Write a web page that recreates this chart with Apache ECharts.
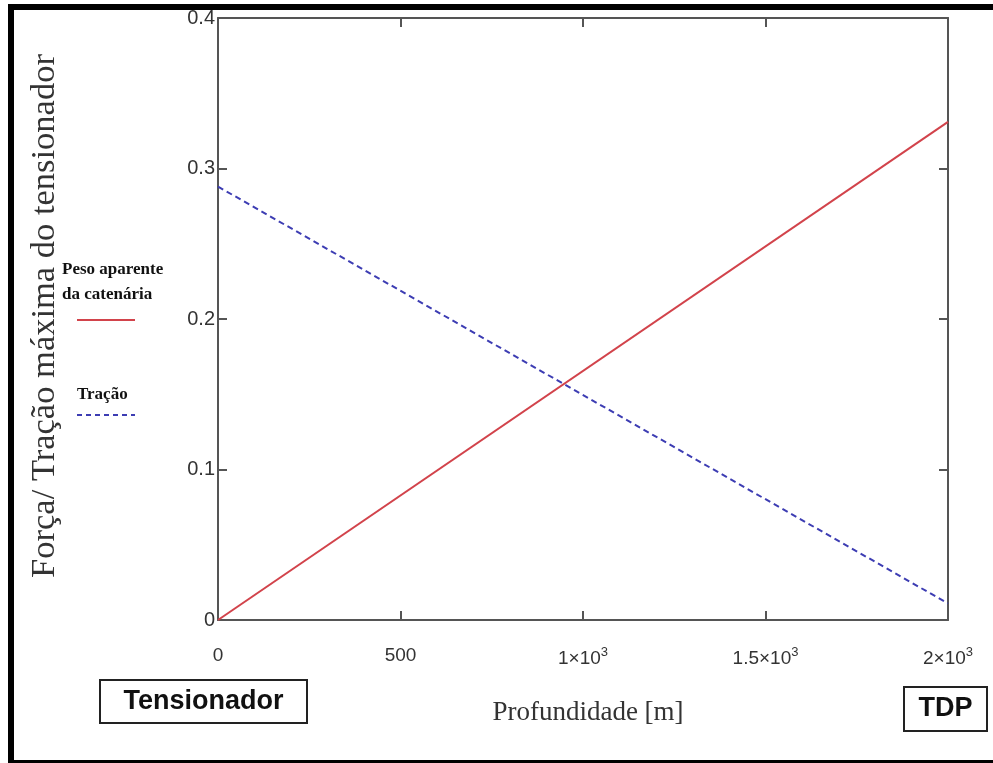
<!DOCTYPE html>
<html><head><meta charset="utf-8">
<script src="https://cdn.jsdelivr.net/npm/echarts@6/dist/echarts.min.js"></script>
<style>html,body{margin:0;padding:0;background:#fff}#c{width:993px;height:763px}</style>
</head><body><div id="c"></div>
<script>
const depth = [0, 2000];
const pesoAparente = [0, 0.331];
const tracao = [0.288, 0.011];
const xTicks = {0: '0', 500: '500', 1000: '{a|1×10}{s|3}', 1500: '{a|1.5×10}{s|3}', 2000: '{a|2×10}{s|3}'};
const yTicks = {0: '0', 0.1: '0.1', 0.2: '0.2', 0.3: '0.3', 0.4: '0.4'};

const chart = echarts.init(document.getElementById('c'), null, {renderer: 'canvas'});
const axisLine = {show: true, onZero: false, lineStyle: {color: '#555', width: 2}};
const tick = {show: true, inside: true, length: 9, lineStyle: {color: '#555', width: 2}};
const serif = '"Liberation Serif", "DejaVu Serif", serif';
const sans = '"Liberation Sans", Arial, sans-serif';
chart.setOption({
  animation: false,
  backgroundColor: '#fff',
  grid: {left: 218, right: 45, top: 18, bottom: 143},
  xAxis: [{
    type: 'value', min: 0, max: 2000, interval: 500, position: 'bottom',
    axisLine, axisTick: tick, splitLine: {show: false},
    axisLabel: {margin: 26, color: '#333', fontFamily: sans, fontSize: 19,
      formatter: v => xTicks[v] !== undefined ? xTicks[v] : '',
      rich: {a: {fontFamily: sans, fontSize: 19, color: '#333'}, s: {fontFamily: sans, fontSize: 13, color: '#333', padding: [0, 0, 12, 0]}}}
  }, {
    type: 'value', min: 0, max: 2000, interval: 500, position: 'top',
    axisLine, axisTick: tick, splitLine: {show: false}, axisLabel: {show: false}
  }],
  yAxis: [{
    type: 'value', min: 0, max: 0.4, interval: 0.1, position: 'left',
    axisLine, axisTick: tick, splitLine: {show: false},
    axisLabel: {margin: 3, color: '#333', fontFamily: sans, fontSize: 20,
      formatter: v => { const k = Math.round(v * 10) / 10; return yTicks[k] !== undefined ? yTicks[k] : ''; }}
  }, {
    type: 'value', min: 0, max: 0.4, interval: 0.1, position: 'right',
    axisLine, axisTick: tick, splitLine: {show: false}, axisLabel: {show: false}
  }],
  series: [{
    name: 'Peso aparente da catenária', type: 'line', showSymbol: false,
    data: depth.map((d, i) => [d, pesoAparente[i]]),
    lineStyle: {color: '#d2434b', width: 2}
  }, {
    name: 'Tração', type: 'line', showSymbol: false,
    data: depth.map((d, i) => [d, tracao[i]]),
    lineStyle: {color: '#3d3db3', width: 2, type: [6, 4]}
  }],
  graphic: [
    {type: 'rect', shape: {x: 8, y: 4, width: 6, height: 759}, style: {fill: '#000'}},
    {type: 'rect', shape: {x: 8, y: 4, width: 985, height: 6}, style: {fill: '#000'}},
    {type: 'rect', shape: {x: 8, y: 760, width: 985, height: 3}, style: {fill: '#000'}},
    {type: 'text', x: 45, y: 316, rotation: Math.PI / 2,
      style: {text: 'Força/ Tração máxima do tensionador', font: '34.5px ' + serif, fill: '#333', align: 'center', verticalAlign: 'middle'}},
    {type: 'text', x: 588, y: 713,
      style: {text: 'Profundidade [m]', font: '27px ' + serif, fill: '#333', align: 'center', verticalAlign: 'middle'}},
    {type: 'text', x: 62, y: 270,
      style: {text: 'Peso aparente', font: 'bold 17px ' + serif, fill: '#111', verticalAlign: 'middle'}},
    {type: 'text', x: 62, y: 295,
      style: {text: 'da catenária', font: 'bold 17px ' + serif, fill: '#111', verticalAlign: 'middle'}},
    {type: 'line', shape: {x1: 77, y1: 320, x2: 135, y2: 320}, style: {stroke: '#d2434b', lineWidth: 2}},
    {type: 'text', x: 77, y: 395,
      style: {text: 'Tração', font: 'bold 17px ' + serif, fill: '#111', verticalAlign: 'middle'}},
    {type: 'line', shape: {x1: 77, y1: 415, x2: 135, y2: 415}, style: {stroke: '#3d3db3', lineWidth: 2, lineDash: [5, 4]}},
    {type: 'rect', shape: {x: 100, y: 680, width: 207, height: 43}, style: {fill: '#fff', stroke: '#222', lineWidth: 2}},
    {type: 'text', x: 203.5, y: 702,
      style: {text: 'Tensionador', font: 'bold 27px ' + sans, fill: '#111', align: 'center', verticalAlign: 'middle'}},
    {type: 'rect', shape: {x: 904, y: 687, width: 83, height: 44}, style: {fill: '#fff', stroke: '#222', lineWidth: 2}},
    {type: 'text', x: 945.5, y: 709,
      style: {text: 'TDP', font: 'bold 27px ' + sans, fill: '#111', align: 'center', verticalAlign: 'middle'}}
  ]
});
</script></body></html>
